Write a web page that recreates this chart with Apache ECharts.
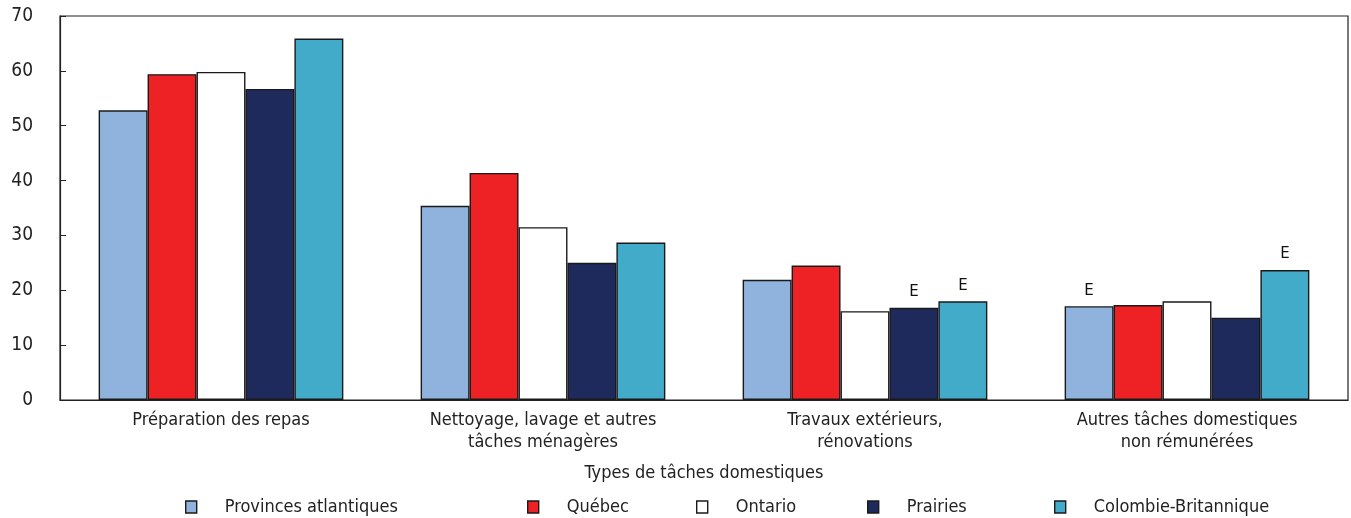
<!DOCTYPE html>
<html>
<head>
<meta charset="utf-8">
<script src="https://cdn.jsdelivr.net/npm/echarts@6/dist/echarts.min.js"></script>
<style>
  html, body { margin: 0; padding: 0; background: #fff; }
  #chart { width: 1351px; height: 518px; }
</style>
</head>
<body>
<div id="chart"></div>
<script>
var categories = [
  'Préparation des repas',
  'Nettoyage, lavage et autres\ntâches ménagères',
  'Travaux extérieurs,\nrénovations',
  'Autres tâches domestiques\nnon rémunérées'
];
var seriesNames = ['Provinces atlantiques', 'Québec', 'Ontario', 'Prairies', 'Colombie-Britannique'];
var atlantique = [52.8, 35.4, 21.9, 17.1];
var quebec = [59.4, 41.4, 24.5, 17.3];
var ontario = [59.8, 31.5, 16.2, 18.0];
var prairies = [56.7, 25.0, 16.8, 15.0];
var colombie = [65.9, 28.7, 18.0, 23.7];
// "E" = use with caution
var flagAtlantique = ['', '', '', 'E'];
var flagQuebec = ['', '', '', ''];
var flagOntario = ['', '', '', ''];
var flagPrairies = ['', '', 'E', ''];
var flagColombie = ['', '', 'E', 'E'];
var colors = ['#8fb3dd', '#ee2224', '#ffffff', '#1f2a5c', '#42abc9'];

var values = [atlantique, quebec, ontario, prairies, colombie];
var flags = [flagAtlantique, flagQuebec, flagOntario, flagPrairies, flagColombie];
var font = '"Liberation Sans Narrow", "DejaVu Sans Condensed", sans-serif';

var chart = echarts.init(document.getElementById('chart'));

var series = seriesNames.map(function (name, i) {
  return {
    name: name,
    type: 'bar',
    barGap: 0,
    barCategoryGap: '24%',
    itemStyle: { color: colors[i], borderColor: '#1a1a1a', borderWidth: 1.4 },
    label: {
      show: true,
      position: 'top',
      distance: 8,
      color: '#111',
      fontSize: 15,
      fontFamily: '"DejaVu Sans", sans-serif',
      formatter: function (p) { return flags[i][p.dataIndex]; }
    },
    data: values[i]
  };
});

var legendLeft = [185, 527, 696, 867, 1054];
var legends = seriesNames.map(function (name, i) {
  return {
    data: [name],
    left: legendLeft[i],
    top: 498,
    padding: 0,
    icon: 'rect',
    itemWidth: 11,
    itemHeight: 12,
    itemStyle: { borderColor: '#1a1a1a', borderWidth: 1.4 },
    textStyle: { fontSize: 18, fontFamily: font, color: '#222', padding: [0, 0, 0, 23] },
    selectedMode: false
  };
});

chart.setOption({
  animation: false,
  color: colors,
  grid: {
    left: 60, right: 3, top: 16, bottom: 118,
    show: true, borderColor: '#222', borderWidth: 1.2
  },
  legend: legends,
  xAxis: {
    type: 'category',
    data: categories,
    name: 'Types de tâches domestiques',
    nameLocation: 'middle',
    nameGap: 64,
    nameTextStyle: { fontSize: 18, fontFamily: font, color: '#222' },
    axisLine: { lineStyle: { color: '#222', width: 1.2 } },
    axisTick: { inside: true, length: 5, lineStyle: { color: '#222' } },
    axisLabel: { fontSize: 18, fontFamily: font, color: '#222', margin: 9, lineHeight: 22 }
  },
  yAxis: {
    type: 'value',
    min: 0, max: 70, interval: 10,
    axisLine: { show: true, lineStyle: { color: '#222', width: 1.2 } },
    axisTick: { show: true, inside: true, length: 6, lineStyle: { color: '#222' } },
    splitLine: { show: false },
    axisLabel: { fontSize: 19, fontFamily: font, color: '#222', margin: 27 }
  },
  series: series
});
</script>
</body>
</html>
